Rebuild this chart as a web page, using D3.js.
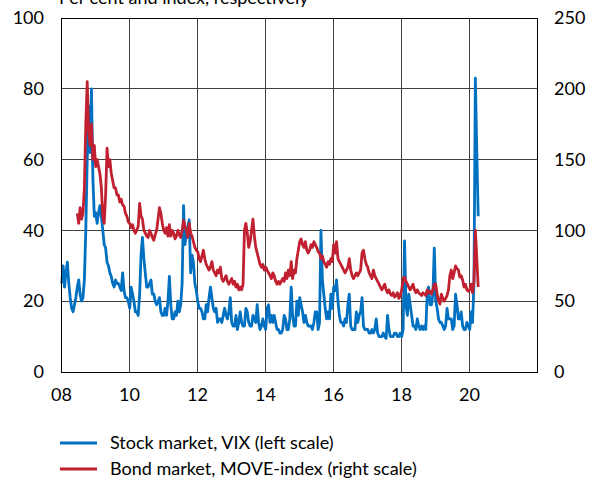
<!DOCTYPE html>
<html>
<head>
<meta charset="utf-8">
<script src="https://cdn.jsdelivr.net/npm/d3@7"></script>
<style>
  html, body { margin: 0; padding: 0; background: #fff; }
  svg { display: block; }
  text { font-family: Lato, "Liberation Sans", sans-serif; fill: #000; }
</style>
</head>
<body>
<svg id="chart" width="598" height="481"></svg>
<script>
// ---- Data (semi-monthly readings) ----
// VIX, left scale, from first half of Jan 2008
const vixValues = [
  // 2008
  25, 30, 24, 28, 31, 25, 21, 18, 17, 19, 21, 24, 26, 22, 20, 21, 26, 40, 60, 75, 62, 80, 55, 44,
  // 2009
  45, 42, 45, 47, 44, 40, 36, 35, 31, 30, 28, 27, 25, 24, 26, 25, 25, 24, 23, 28, 23, 21, 21, 20,
  // 2010
  18, 24, 22, 20, 17, 17, 16, 22, 33, 38, 32, 28, 24, 24, 25, 26, 22, 22, 20, 19, 20, 21, 17, 16,
  // 2011
  16, 18, 16, 20, 27, 19, 15, 15, 17, 16, 20, 17, 19, 25, 47, 36, 39, 41, 43, 28, 33, 31, 25, 23,
  // 2012
  20, 18, 18, 17, 15, 15, 19, 17, 21, 24, 21, 18, 17, 18, 14, 15, 15, 14, 16, 18, 16, 15, 17, 21,
  // 2013
  14, 13, 13, 16, 12, 14, 17, 14, 13, 13, 18, 17, 14, 13, 13, 16, 15, 14, 19, 14, 12, 13, 15, 13,
  // 2014
  12, 18, 19, 14, 16, 14, 16, 14, 12, 12, 11, 11, 12, 16, 15, 12, 12, 15, 24, 16, 13, 13, 20, 16,
  // 2015
  21, 19, 17, 14, 16, 14, 13, 13, 13, 12, 14, 17, 17, 12, 14, 40, 26, 22, 18, 15, 17, 15, 22, 18,
  // 2016
  24, 23, 26, 20, 16, 14, 14, 13, 15, 14, 19, 22, 13, 12, 12, 12, 17, 14, 16, 17, 21, 13, 12, 12,
  // 2017
  12, 11, 11, 12, 11, 12, 15, 11, 10, 10, 10, 11, 10, 9.5, 16, 12, 10, 10, 10, 11, 11, 10, 10, 11,
  // 2018
  10, 12, 37, 19, 16, 22, 19, 16, 13, 13, 12, 15, 13, 12, 13, 12, 13, 12, 22, 24, 19, 19, 22, 35,
  // 2019
  20, 18, 15, 14, 14, 13, 12, 13, 18, 15, 15, 15, 12, 13, 22, 19, 15, 15, 17, 13, 12, 12, 14, 13,
  // 2020
  12, 17, 14, 25, 83, 62, 44
];
const vixStartIndex = 0;

// MOVE index, right scale, from second half of Jun 2008
const moveValues = [
  // 2008 (Jun 2nd half .. Dec)
  112, 105, 116, 108, 112, 130, 175, 205, 170, 160, 175, 150, 160,
  // 2009
  145, 150, 145, 140, 130, 110, 105, 125, 158, 145, 150, 140, 135, 130, 130, 125, 125, 120, 122, 118, 117, 112, 110, 106,
  // 2010
  105, 102, 104, 100, 98, 100, 103, 119, 110, 108, 100, 98, 96, 95, 100, 98, 95, 93, 97, 100, 108, 116, 112, 105,
  // 2011
  100, 98, 102, 96, 104, 96, 100, 98, 94, 96, 100, 97, 95, 100, 107, 103, 100, 95, 105, 98, 96, 92, 88, 86,
  // 2012
  85, 80, 78, 82, 86, 80, 76, 74, 72, 74, 78, 72, 70, 68, 72, 70, 74, 66, 64, 66, 68, 64, 62, 64,
  // 2013
  66, 62, 64, 60, 62, 58, 60, 58, 62, 100, 105, 98, 88, 92, 100, 108, 96, 88, 84, 80, 76, 74, 76, 72,
  // 2014
  74, 72, 70, 68, 66, 70, 68, 64, 62, 64, 62, 64, 66, 64, 70, 66, 72, 68, 78, 66, 72, 70, 80, 86,
  // 2015
  92, 94, 90, 88, 92, 86, 84, 86, 90, 88, 92, 90, 88, 85, 84, 80, 82, 78, 76, 74, 78, 76, 80, 78,
  // 2016
  90, 84, 92, 80, 78, 76, 74, 72, 70, 72, 74, 80, 72, 68, 66, 68, 70, 68, 70, 72, 84, 86, 80, 76,
  // 2017
  74, 70, 68, 66, 72, 68, 66, 64, 62, 60, 58, 60, 62, 58, 56, 58, 55, 54, 56, 53, 54, 56, 52, 54,
  // 2018
  58, 66, 67, 64, 62, 60, 58, 60, 62, 58, 56, 58, 56, 55, 54, 56, 55, 54, 58, 56, 57, 55, 58, 62,
  // 2019
  62, 55, 50, 48, 55, 52, 50, 52, 54, 58, 68, 72, 66, 70, 75, 73, 72, 67, 68, 65, 60, 62, 58, 57,
  // 2020
  58, 62, 56, 64, 100, 80, 60
];
const moveStartIndex = 11;

const yearTicks = [2008, 2010, 2012, 2014, 2016, 2018, 2020];
const yearTickLabels = ["08", "10", "12", "14", "16", "18", "20"];
const leftTicks = [0, 20, 40, 60, 80, 100];
const rightTicks = [0, 50, 100, 150, 200, 250];
const titleText = "Per cent and index, respectively";
const seriesNames = ["Stock market, VIX (left scale)", "Bond market, MOVE-index (right scale)"];
const seriesColors = ["#0070C0", "#C0202F"];

// ---- Layout ----
const svg = d3.select("#chart");
const plotL = 61, plotR = 537, plotT = 18, plotB = 372;
const fontSize = 18;

const x = d3.scaleLinear().domain([2008, 2022]).range([plotL, plotR]);
const yL = d3.scaleLinear().domain([0, 100]).range([plotB, plotT]);
const yR = d3.scaleLinear().domain([0, 250]).range([plotB, plotT]);

const toDate = i => 2008 + (i + 0.5) / 24;

// Gridlines
const grid = svg.append("g");
grid.selectAll("line.v").data(yearTicks.slice(1)).join("line")
  .attr("x1", d => x(d)).attr("x2", d => x(d))
  .attr("y1", plotT).attr("y2", plotB)
  .attr("stroke", "#404040").attr("stroke-width", 1).attr("shape-rendering", "crispEdges");
grid.selectAll("line.h").data(leftTicks.slice(1, -1)).join("line")
  .attr("x1", plotL).attr("x2", plotR)
  .attr("y1", d => yL(d)).attr("y2", d => yL(d))
  .attr("stroke", "#404040").attr("stroke-width", 1).attr("shape-rendering", "crispEdges");

// Series
const vixData = vixValues.map((v, i) => [toDate(i + vixStartIndex), v]);
const moveData = moveValues.map((v, i) => [toDate(i + moveStartIndex), v]);

svg.append("path").datum(vixData)
  .attr("fill", "none").attr("stroke", seriesColors[0]).attr("stroke-width", 2.8)
  .attr("stroke-linejoin", "round")
  .attr("d", d3.line().x(d => x(d[0])).y(d => yL(d[1])));
svg.append("path").datum(moveData)
  .attr("fill", "none").attr("stroke", seriesColors[1]).attr("stroke-width", 2.8)
  .attr("stroke-linejoin", "round")
  .attr("d", d3.line().x(d => x(d[0])).y(d => yR(d[1])));

// Border
svg.append("rect").attr("x", plotL).attr("y", plotT)
  .attr("width", plotR - plotL).attr("height", plotB - plotT)
  .attr("fill", "none").attr("stroke", "#000").attr("stroke-width", 1)
  .attr("shape-rendering", "crispEdges");

// Axes (labels only)
const axL = d3.axisLeft(yL).tickValues(leftTicks).tickSize(0).tickPadding(17);
const gL = svg.append("g").attr("transform", `translate(${plotL},0)`).call(axL);
const axR = d3.axisRight(yR).tickValues(rightTicks).tickSize(0).tickPadding(17);
const gR = svg.append("g").attr("transform", `translate(${plotR},0)`).call(axR);
const axB = d3.axisBottom(x).tickValues(yearTicks).tickFormat((d, i) => yearTickLabels[i]).tickSize(0).tickPadding(16);
const gB = svg.append("g").attr("transform", `translate(0,${plotB})`).call(axB);
[gL, gR, gB].forEach(g => {
  g.select(".domain").remove();
  g.selectAll("text").attr("font-family", "Lato, 'Liberation Sans', sans-serif")
    .attr("font-size", fontSize).attr("fill", "#000");
});

// Title (partly cut off at top, as in the reference)
svg.append("text").attr("x", 59).attr("y", 4)
  .attr("font-size", fontSize).text(titleText);

// Legend
const legend = svg.append("g");
seriesNames.forEach((name, i) => {
  const yy = 443 + i * 26;
  legend.append("line").attr("x1", 60).attr("x2", 97).attr("y1", yy).attr("y2", yy)
    .attr("stroke", seriesColors[i]).attr("stroke-width", 3);
  legend.append("text").attr("x", 110).attr("y", yy).attr("dy", "0.35em")
    .attr("font-size", fontSize).text(name);
});
</script>
</body>
</html>
